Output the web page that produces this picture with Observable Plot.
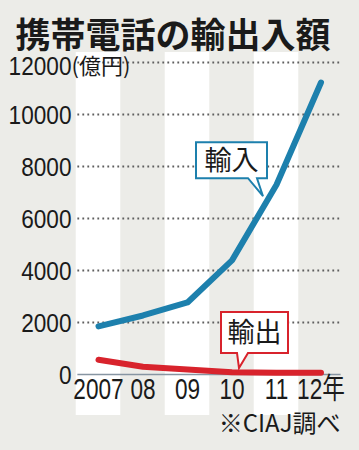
<!DOCTYPE html>
<html>
<head>
<meta charset="utf-8">
<script src="https://cdn.jsdelivr.net/npm/d3@7"></script>
<script src="https://cdn.jsdelivr.net/npm/@observablehq/plot@0.6"></script>
<style>
  html, body { margin: 0; padding: 0; background: #ecece8; }
  #chart { width: 359px; height: 450px; }
  #chart svg { display: block; }
</style>
</head>
<body>
<div id="chart"></div>
<script>
// ---- data ----
const title = "携帯電話の輸出入額";
const unitLabel = "(億円)";
const source = "※CIAJ調べ";
const years = [2007, 2008, 2009, 2010, 2011, 2012];
const yearLabels = ["2007", "08", "09", "10", "11", "12年"];
const imports = [1850, 2270, 2770, 4390, 7300, 11230];   // 輸入
const exports = [570, 300, 190, 90, 70, 70];             // 輸出
const yTicks = [0, 2000, 4000, 6000, 8000, 10000, 12000];
const bandYears = [2007, 2009, 2011];

const blue = "#1d80ad";
const red = "#d8232c";
const ink = "#1a1a1a";
const numFont = "'Liberation Sans', Arial, 'Noto Sans CJK JP', sans-serif";
const jpFont = "'Noto Sans CJK JP', sans-serif";

const importRows = years.map((y, i) => ({year: y, value: imports[i]}));
const exportRows = years.map((y, i) => ({year: y, value: exports[i]}));
const gridRows = yTicks.map(t => ({tick: t, x1: years[0] - 0.475, x2: years[years.length - 1] + 0.44}));

const callouts = [
  {text: "輸入", color: blue, year: years[4], value: imports[4],
   tip: [-13, 12], box: [-67, 4, -54, -18], notch: [-15, -6]},
  {text: "輸出", color: red, year: years[3], value: exports[3],
   tip: [7.5, -3.7], box: [-18, 49, -56, -15], notch: [-2, 9]}
];

function calloutMark(index, scales) {
  const g = d3.create("svg:g");
  for (const c of callouts) {
    const tx = scales.x(c.year) + c.tip[0];
    const ty = scales.y(c.value) + c.tip[1];
    const [l, r, t, b] = c.box.map((v, i) => (i < 2 ? tx : ty) + v);
    const n1 = tx + c.notch[0], n2 = tx + c.notch[1];
    g.append("path")
      .attr("d", `M${l},${t}H${r}V${b}H${n2}L${tx},${ty}L${n1},${b}H${l}Z`)
      .attr("fill", "white")
      .attr("stroke", c.color)
      .attr("stroke-width", 2)
      .attr("stroke-linejoin", "miter");
    g.append("text")
      .attr("x", (l + r) / 2)
      .attr("y", (t + b) / 2)
      .attr("dy", "0.36em")
      .attr("text-anchor", "middle")
      .attr("font-family", jpFont)
      .attr("font-size", 27)
      .attr("fill", ink)
      .text(c.text);
  }
  return g.node();
}

const topTick = yTicks[yTicks.length - 1];

const chart = Plot.plot({
  width: 359,
  height: 450,
  marginLeft: 98,
  marginRight: 38.5,
  marginTop: 62,
  marginBottom: 76,
  style: {background: "transparent"},
  x: {type: "linear", domain: [2007, 2012], axis: null},
  y: {domain: [0, 12000], axis: null},
  marks: [
    Plot.rect(bandYears, {x1: d => d - 0.5, x2: d => d + 0.5, y1: () => -1577, y2: () => 12385, fill: "white"}),
    // dotted grid as thin rects (2px tall) with a dash pattern
    Plot.link(gridRows.filter(d => d.tick > 0), {x1: "x1", x2: "x2", y1: "tick", y2: "tick",
      stroke: "#5e5e5e", strokeWidth: 1.8, strokeDasharray: "1.8 3.2"}),
    Plot.link(gridRows.filter(d => d.tick === 0), {x1: "x1", x2: "x2", y1: "tick", y2: "tick",
      stroke: "#8795a2", strokeWidth: 1.6}),
    Plot.line(exportRows, {x: "year", y: "value", stroke: red, strokeWidth: 6, strokeLinecap: "round", strokeLinejoin: "round"}),
    Plot.line(importRows, {x: "year", y: "value", stroke: blue, strokeWidth: 6, strokeLinecap: "round", strokeLinejoin: "round"}),
    calloutMark,
    Plot.text(yTicks.filter(d => d < topTick), {y: d => d, text: d => String(d), frameAnchor: "left", dx: -27, dy: 1,
      textAnchor: "end", fontSize: 26, fontFamily: numFont, fill: ink}),
    Plot.text([topTick], {y: d => d, text: d => String(d), frameAnchor: "left", dx: -27, dy: 4,
      textAnchor: "end", fontSize: 26, fontFamily: numFont, fill: ink}),
    Plot.text([unitLabel], {y: () => topTick, text: d => d, frameAnchor: "left", dx: -27, dy: 4, textAnchor: "start",
      fontSize: 22, fontFamily: jpFont, fill: ink}),
    Plot.text(years, {x: d => d, text: (d, i) => yearLabels[i], frameAnchor: "bottom", dy: 24,
      fontSize: 29, fontFamily: numFont, fill: ink}),
    Plot.text([title], {text: d => d, frameAnchor: "top-left", dx: -83, dy: -39, textAnchor: "start",
      fontSize: 35, fontWeight: "bold", fontFamily: jpFont, fill: ink}),
    Plot.text([source], {text: d => d, frameAnchor: "bottom-right", dx: 19.5, dy: 57, textAnchor: "end",
      fontSize: 24, fontFamily: jpFont, fill: ink})
  ]
});

// condense the numeric labels horizontally (the reference uses a narrow face)
const yTickSet = new Set(yTicks.map(String));
const xLabelSet = new Set(yearLabels);
d3.select(chart).selectAll("text").each(function () {
  const s = this.textContent;
  let k = null;
  if (yTickSet.has(s)) k = 0.87;
  else if (xLabelSet.has(s)) k = 0.78;
  if (k == null) return;
  const el = d3.select(this);
  const tr = el.attr("transform");
  if (tr) {
    el.attr("transform", tr + ` scale(${k},1)`);
  } else {
    const x = +el.attr("x") || 0, y = +el.attr("y") || 0;
    el.attr("x", null).attr("y", null).attr("transform", `translate(${x},${y}) scale(${k},1)`);
  }
});

document.getElementById("chart").appendChild(chart);
</script>
</body>
</html>
